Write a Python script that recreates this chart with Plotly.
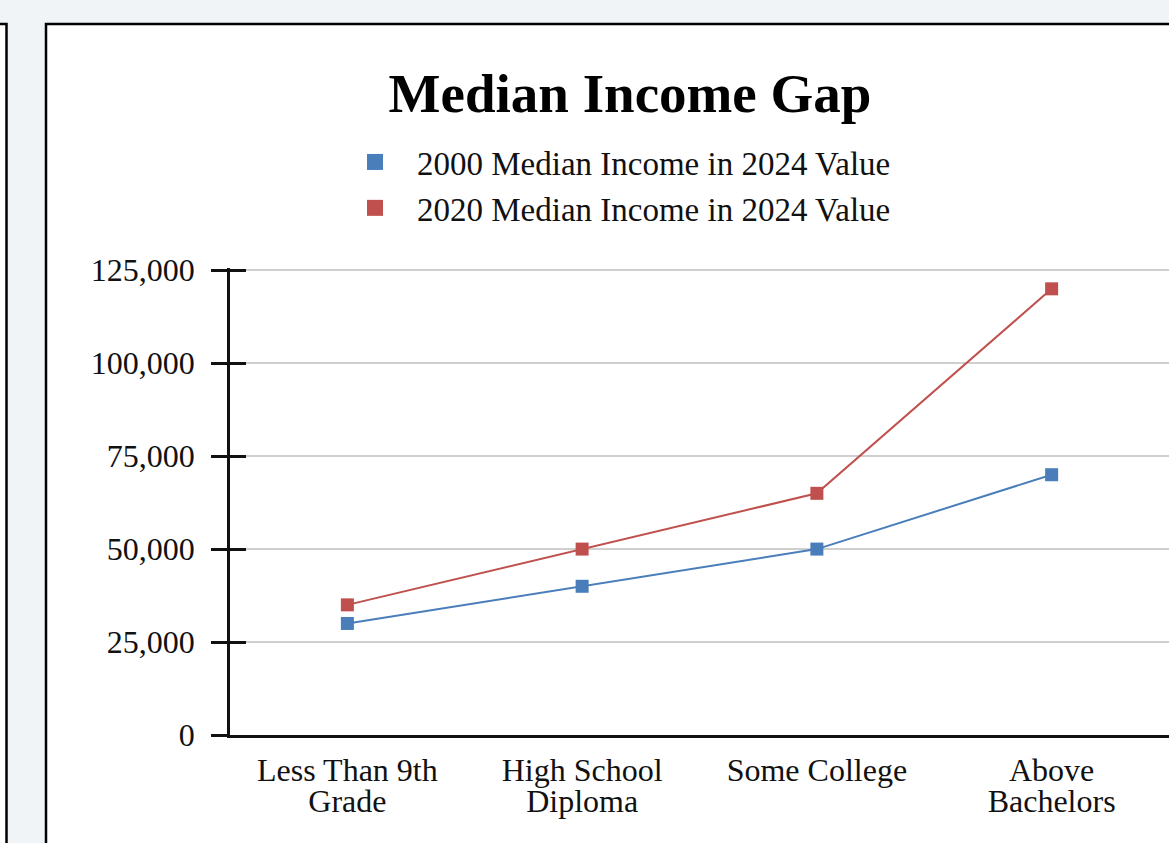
import plotly.graph_objects as go

# Education levels (first and second line of each axis label)
categories = ["Less Than 9th Grade", "High School Diploma", "Some College", "Above Bachelors"]
label_line1 = ["Less Than 9th", "High School", "Some College", "Above"]
label_line2 = ["Grade", "Diploma", "", "Bachelors"]

# Median income, expressed in 2024 dollars
income_2000 = [30000, 40000, 50000, 70000]
income_2020 = [35000, 50000, 65000, 120000]
series_names = ["2000 Median Income in 2024 Value", "2020 Median Income in 2024 Value"]
series_colors = ["#4a7ebb", "#c0504d"]

y_ticks = [0, 25000, 50000, 75000, 100000, 125000]
y_ticktext = ["0", "25,000", "50,000", "75,000", "100,000", "125,000"]
y_top = 125600

W, H = 1169, 843
ML, MR, MT, MB = 230, 0, 268, 108
SERIF = "Liberation Serif"


def px_x(p):
    return (p - ML) / (W - ML - MR)


def px_y(p):
    return (H - MB - p) / (H - MT - MB)


pos = list(range(len(categories)))
fig = go.Figure()

for name, vals, col in zip(series_names, [income_2000, income_2020], series_colors):
    fig.add_trace(go.Scatter(
        x=pos, y=vals, mode="lines+markers", name=name, showlegend=False,
        line=dict(color=col, width=2),
        marker=dict(symbol="square", size=13, color=col),
        hovertext=categories,
    ))

# marker-only legend entries; they also attach the companion axes
for name, col, xa, ya in zip(series_names, series_colors, ["x2", "x"], ["y", "y2"]):
    fig.add_trace(go.Scatter(
        x=[None], y=[None], mode="markers", name=name, xaxis=xa, yaxis=ya,
        marker=dict(symbol="square", size=17, color=col),
    ))

fig.update_layout(
    width=W, height=H,
    margin=dict(l=ML, r=MR, t=MT, b=MB),
    paper_bgcolor="#f1f4f6",
    plot_bgcolor="rgba(0,0,0,0)",
    font=dict(family=SERIF, color="#111111", size=32),
    title=dict(
        text="Median Income Gap", xref="container", yref="container",
        x=630 / W, xanchor="center", y=1 - 93 / H, yanchor="middle",
        font=dict(family=SERIF, size=55, weight="bold", color="#000000"),
    ),
    legend=dict(
        x=px_x(333), xanchor="left", y=px_y(134), yanchor="top",
        bgcolor="rgba(0,0,0,0)", font=dict(size=33, color="#111111"),
        itemwidth=74, tracegroupgap=0,
    ),
    xaxis=dict(
        range=[-0.5, len(categories) - 0.5], tickmode="array",
        tickvals=pos, ticktext=label_line1, showgrid=False, zeroline=False,
        showline=True, linecolor="#111111", linewidth=2.5, ticks="",
        ticklabelstandoff=5, tickfont=dict(size=32),
    ),
    xaxis2=dict(
        overlaying="x", anchor="y", side="bottom",
        range=[-0.5, len(categories) - 0.5], tickmode="array",
        tickvals=pos, ticktext=label_line2, showgrid=False, zeroline=False,
        showline=False, ticks="", ticklabelstandoff=44, tickfont=dict(size=32),
    ),
    yaxis=dict(
        range=[0, y_top], tickmode="array", tickvals=y_ticks, ticktext=y_ticktext,
        showgrid=True, gridcolor="#cfcfcf", gridwidth=2, zeroline=False,
        showline=True, linecolor="#111111", linewidth=2.5,
        ticks="outside", ticklen=16, tickwidth=2.5, tickcolor="#111111",
        ticklabelstandoff=10,
    ),
    yaxis2=dict(
        overlaying="y", anchor="x", side="left",
        range=[0, y_top], tickmode="array", tickvals=y_ticks,
        showticklabels=False, showgrid=False, zeroline=False, showline=False,
        ticks="inside", ticklen=16, tickwidth=2.5, tickcolor="#111111",
    ),
    shapes=[
        # main white panel with black frame
        dict(type="rect", xref="paper", yref="paper", layer="below",
             x0=px_x(46), x1=px_x(1240), y0=px_y(920), y1=px_y(24),
             fillcolor="#ffffff", line=dict(color="#000000", width=2.5)),
        # edge of the neighbouring panel on the left
        dict(type="rect", xref="paper", yref="paper", layer="below",
             x0=px_x(-40), x1=px_x(6.5), y0=px_y(920), y1=px_y(24),
             fillcolor="#ffffff", line=dict(color="#000000", width=2.5)),
    ],
)

fig.write_html("out.html")
